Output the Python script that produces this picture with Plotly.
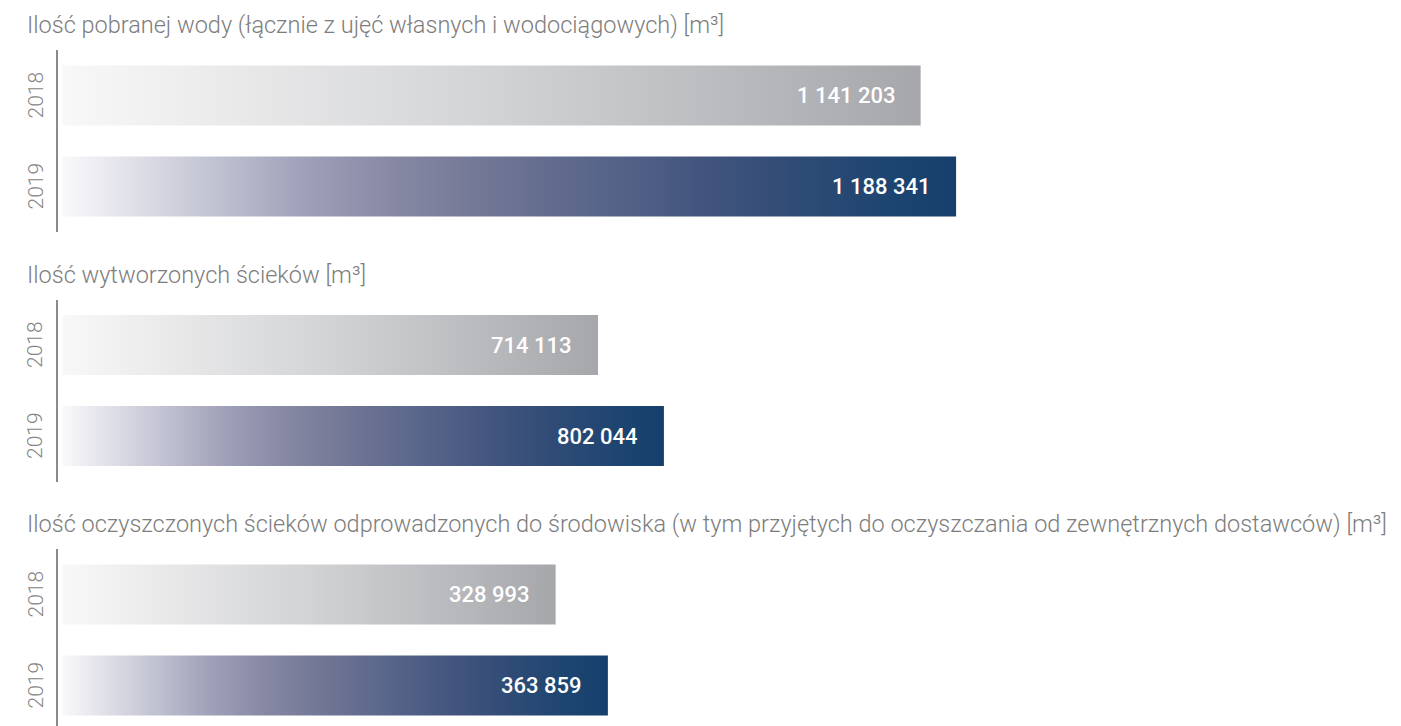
import plotly.graph_objects as go

# Data
years = ["2018", "2019"]
group_titles = [
    "Ilość pobranej wody (łącznie z ujęć własnych i wodociągowych) [m³]",
    "Ilość wytworzonych ścieków [m³]",
    "Ilość oczyszczonych ścieków odprowadzonych do środowiska (w tym przyjętych do oczyszczania od zewnętrznych dostawców) [m³]",
]
water_taken = [1141203, 1188341]
sewage_generated = [714113, 802044]
sewage_discharged = [328993, 363859]
groups = [water_taken, sewage_generated, sewage_discharged]

# Axis maxima (value shown at the right edge of each panel)
axis_max = [1780000, 1785000, 893000]

# Styling
W, H = 1401, 726
grey_scale = [[0.0, "#f8f8f8"], [0.5, "#d2d3d5"], [1.0, "#a6a7ab"]]
blue_scale = [
    [0.0, "#f9f9fb"], [0.155, "#c6c7d5"], [0.278, "#9d9eb7"], [0.378, "#8587a2"],
    [0.49, "#6e7493"], [0.60, "#58658a"], [0.714, "#43557e"], [0.826, "#2e4b75"],
    [0.938, "#1b4470"], [1.0, "#163f6d"],
]
scales = [grey_scale, blue_scale]
bar_half = 0.33
axis_px = 58.0       # x pixel of the vertical axis line
bar_start_px = 62.5  # x pixel where bars begin
panel_top_px = [50, 299.5, 549]
panel_h_px = 182
row_px = 91.0        # pixels per category step

fig = go.Figure()
layout_axes = {}
annotations = []


def fmt(v):
    return f"{v:,}".replace(",", " ")


for gi, vals in enumerate(groups):
    n = gi + 1
    xa = "x" if n == 1 else f"x{n}"
    ya = "y" if n == 1 else f"y{n}"
    k = (W - bar_start_px) / axis_max[gi]
    x_min = -(bar_start_px - axis_px) / k
    top = panel_top_px[gi]
    bottom = min(top + panel_h_px, H)
    y_low = -0.5 + (bottom - top) / row_px
    layout_axes[f"xaxis{'' if n == 1 else n}"] = dict(
        domain=[axis_px / W, 1], range=[x_min, axis_max[gi]], visible=False,
        anchor=ya, fixedrange=True,
    )
    layout_axes[f"yaxis{'' if n == 1 else n}"] = dict(
        domain=[1 - bottom / H, 1 - top / H], range=[y_low, -0.5],
        anchor=xa, showline=True, linecolor="#8a8a8a", linewidth=2,
        showgrid=False, zeroline=False, showticklabels=False, ticks="",
        fixedrange=True,
    )
    for yi, v in enumerate(vals):
        fig.add_trace(go.Scatter(
            x=[0, v, v, 0, 0],
            y=[yi - bar_half, yi - bar_half, yi + bar_half, yi + bar_half, yi - bar_half],
            mode="lines", line=dict(width=0), fill="toself",
            fillgradient=dict(type="horizontal", colorscale=scales[yi]),
            xaxis=xa, yaxis=ya, hoverinfo="skip", showlegend=False,
        ))
        annotations.append(dict(
            x=v, y=yi, xref=xa, yref=ya, xanchor="right", yanchor="middle",
            xshift=-24, text=fmt(v), showarrow=False,
            font=dict(family="Roboto", size=22, color="#ffffff", weight=500),
        ))
        annotations.append(dict(
            x=35 / W, y=yi, xref="paper", yref=ya, xanchor="center", yanchor="middle",
            text=years[yi], textangle=-90, showarrow=False,
            font=dict(family="Roboto", size=21, color="#858585", weight=300),
        ))
    annotations.append(dict(
        x=25 / W, y=1 - (top - 25) / H, xref="paper", yref="paper",
        xanchor="left", yanchor="middle", text=group_titles[gi], showarrow=False,
        font=dict(family="Roboto", size=23.5, color="#7d7d7d", weight=300),
    ))

fig.update_layout(
    width=W, height=H, margin=dict(l=0, r=0, t=0, b=0),
    paper_bgcolor="#ffffff", plot_bgcolor="#ffffff",
    annotations=annotations, showlegend=False,
    **layout_axes,
)

fig.write_html("out.html", config={"displayModeBar": False})
